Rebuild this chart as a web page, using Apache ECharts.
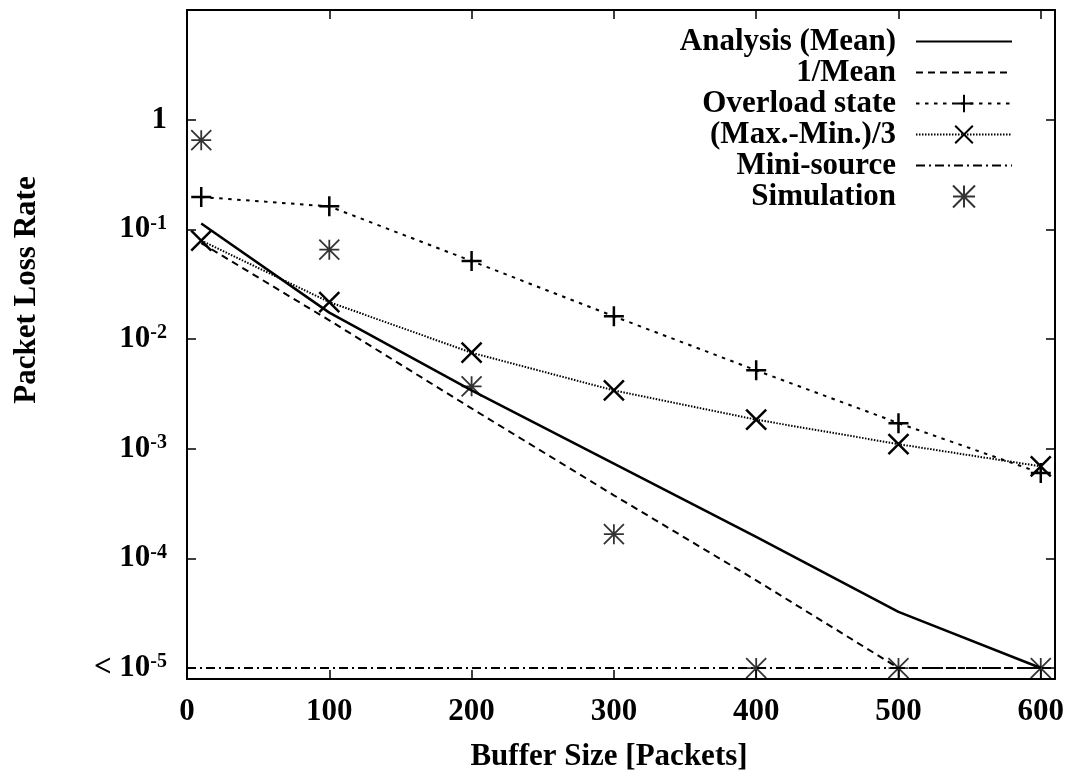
<!DOCTYPE html>
<html>
<head>
<meta charset="utf-8">
<script src="https://cdn.jsdelivr.net/npm/echarts@6/dist/echarts.min.js"></script>
<style>
  html, body { margin: 0; padding: 0; background: #fff; }
  #chart { width: 1076px; height: 780px; }
</style>
</head>
<body>
<div id="chart"></div>
<script>
  // buffer sizes where the curves were evaluated
  var bufferSizes = [10, 100, 200, 300, 400, 500, 600]
  var analysisMean = [0.113, 0.0174, 0.0034, 7.3e-4, 1.57e-4, 3.25e-5, 1e-5]
  var oneOverMean = [0.075, 0.0148, 0.00233, 3.76e-4, 6.3e-5, 1e-5, 1e-5]
  var overloadState = [0.197, 0.162, 0.0514, 0.0161, 0.00518, 0.00171, 6.0e-4]
  var maxMinThird = [0.079, 0.0217, 0.0075, 0.0034, 0.00184, 0.0011, 6.9e-4]
  var simulation = [0.65, 0.0653, 0.0037, 1.66e-4, 1e-5, 1e-5, 1e-5]
  var miniSourceX = [0, 610]
  var miniSource = [1e-5, 1e-5]

  var xTicks = [0, 100, 200, 300, 400, 500, 600]
  var yTickExponents = [0, -1, -2, -3, -4, -5]

  var FONT = 'Liberation Serif, Times New Roman, serif'
  var plusPath = 'path://M-1,0L1,0M0,-1L0,1'
  var crossPath = 'path://M-1,-1L1,1M-1,1L1,-1'
  var starPath = 'path://M-1,0L1,0M0,-1L0,1M-1,-1L1,1M-1,1L1,-1'

  function pairs(xs, ys) {
    return xs.map(function (x, i) { return [x, ys[i]] })
  }

  function yLabel(value) {
    var e = Math.log10(value)
    var r = Math.round(e)
    if (Math.abs(e - r) > 1e-6 || yTickExponents.indexOf(r) < 0) return ''
    if (r === 0) return '1'
    if (r === -5) return '< 10{sup|' + r + '}'
    return '10{sup|' + r + '}'
  }

  var chart = echarts.init(document.getElementById('chart'))

  var axisFont = {fontFamily: FONT, fontWeight: 'bold', fontSize: 31, color: '#000'}
  // plain lines: hide the legend marker
  var noMarker = {color: 'transparent', borderColor: 'transparent', borderWidth: 0}

  chart.setOption({
    animation: false,
    backgroundColor: '#fff',
    grid: {left: 187, right: 21, top: 10, bottom: 101},
    legend: {
      orient: 'vertical',
      right: 58,
      top: 21,
      align: 'right',
      itemWidth: 96,
      itemHeight: 22,
      itemGap: 0,
      selectedMode: false,
      formatter: '{n|{name}}',
      textStyle: {
        fontFamily: FONT, fontWeight: 'bold', fontSize: 31, color: '#000',
        rich: {
          n: {fontFamily: FONT, fontWeight: 'bold', fontSize: 31, color: '#000',
            width: 230, align: 'right', lineHeight: 30, padding: [0, 15, 0, 0]}
        }
      },
      data: ['Analysis (Mean)', '1/Mean', 'Overload state', '(Max.-Min.)/3', 'Mini-source', 'Simulation']
    },
    graphic: [
      {
        type: 'text', x: 27, y: 290, rotation: Math.PI / 2,
        style: {text: 'Packet Loss Rate', font: 'bold 31px ' + FONT, fill: '#000',
          textAlign: 'center', textVerticalAlign: 'middle'}
      },
      {
        type: 'text', x: 609, y: 757,
        style: {text: 'Buffer Size [Packets]', font: 'bold 31px ' + FONT, fill: '#000',
          textAlign: 'center', textVerticalAlign: 'middle'}
      }
    ],
    xAxis: [
      {
        type: 'value', min: 0, max: 610, interval: 100,
        axisLine: {show: true, onZero: false, lineStyle: {color: '#000', width: 2}},
        axisTick: {show: true, inside: true, length: 9, lineStyle: {color: '#000', width: 1.5}},
        axisLabel: Object.assign({margin: 17, showMaxLabel: false, formatter: function (v) {
          return xTicks.indexOf(v) >= 0 ? String(v) : ''
        }}, axisFont),
        splitLine: {show: false}
      },
      {
        type: 'value', position: 'top', min: 0, max: 610, interval: 100,
        axisLine: {show: true, onZero: false, lineStyle: {color: '#000', width: 2}},
        axisTick: {show: true, inside: true, length: 9, lineStyle: {color: '#000', width: 1.5}},
        axisLabel: {show: false},
        splitLine: {show: false}
      }
    ],
    yAxis: [
      {
        type: 'log', min: Math.pow(10, -5.1), max: 10,
        axisLine: {show: true, onZero: false, lineStyle: {color: '#000', width: 2}},
        axisTick: {show: true, inside: true, length: 9, lineStyle: {color: '#000', width: 1.5}},
        axisLabel: Object.assign({
          margin: 20, showMinLabel: false, showMaxLabel: false, formatter: yLabel,
          rich: {
            sup: {fontFamily: FONT, fontWeight: 'bold', fontSize: 20, color: '#000',
              verticalAlign: 'top', padding: [0, 0, 12, 0]}
          }
        }, axisFont),
        splitLine: {show: false},
        minorTick: {show: false}
      },
      {
        type: 'log', position: 'right', min: Math.pow(10, -5.1), max: 10,
        axisLine: {show: true, onZero: false, lineStyle: {color: '#000', width: 2}},
        axisTick: {show: true, inside: true, length: 9, lineStyle: {color: '#000', width: 1.5}},
        axisLabel: {show: false},
        splitLine: {show: false}
      }
    ],
    series: [
      {
        name: 'Analysis (Mean)', type: 'line',
        data: pairs(bufferSizes, analysisMean),
        showSymbol: false, symbol: 'none',
        lineStyle: {color: '#000', width: 2.5},
        itemStyle: noMarker
      },
      {
        name: '1/Mean', type: 'line',
        data: pairs(bufferSizes, oneOverMean),
        showSymbol: false, symbol: 'none',
        lineStyle: {color: '#000', width: 2, type: [7, 5]},
        itemStyle: noMarker
      },
      {
        name: 'Overload state', type: 'line',
        data: pairs(bufferSizes, overloadState),
        symbol: plusPath, symbolSize: 20,
        lineStyle: {color: '#000', width: 2, type: [3.5, 5.5]},
        itemStyle: {color: 'transparent', borderColor: '#000', borderWidth: 2.5}
      },
      {
        name: '(Max.-Min.)/3', type: 'line',
        data: pairs(bufferSizes, maxMinThird),
        symbol: crossPath, symbolSize: 20,
        lineStyle: {color: '#000', width: 2, type: [1.5, 1.5]},
        itemStyle: {color: 'transparent', borderColor: '#000', borderWidth: 2.5}
      },
      {
        name: 'Mini-source', type: 'line',
        data: pairs(miniSourceX, miniSource),
        showSymbol: false, symbol: 'none',
        lineStyle: {color: '#000', width: 2, type: [9, 4, 2, 4]},
        itemStyle: noMarker
      },
      {
        name: 'Simulation', type: 'scatter',
        data: pairs(bufferSizes, simulation),
        symbol: starPath, symbolSize: 20,
        itemStyle: {color: 'transparent', borderColor: '#000', borderWidth: 1.8}
      }
    ]
  })
</script>
</body>
</html>
